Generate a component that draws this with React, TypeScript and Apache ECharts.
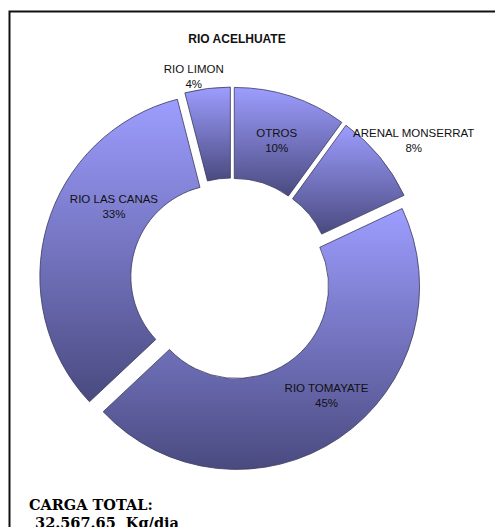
import React, { useEffect, useRef } from "react";
import * as echarts from "echarts";

const TITLE = "RIO ACELHUATE";
const CATEGORIES = ["OTROS", "ARENAL MONSERRAT", "RIO TOMAYATE", "RIO LAS CANAS", "RIO LIMON"];
const VALUES = [10, 8, 45, 33, 4];
const TOTAL_LINES = ["CARGA TOTAL:", " 32.567.65  Kg/dia"];

// label nudges (styling), same order as CATEGORIES
const LABEL_OFFSETS: [number, number][] = [
  [-1, 3.5],
  [67, -43.5],
  [11, -7],
  [26, -31],
  [-19, -54],
];

export default function App() {
  const ref = useRef<HTMLDivElement>(null);
  useEffect(() => {
    if (!ref.current) return;
    const chart = echarts.init(ref.current, undefined, { renderer: "svg" });
    const grad = () =>
      new echarts.graphic.LinearGradient(0, 0, 0, 1, [
        { offset: 0, color: "#9d9dff" },
        { offset: 1, color: "#4a4a80" },
      ]);
    const itemStyle = { color: grad(), borderColor: "#3a3a5e", borderWidth: 0.8 };
    const labelStyle = {
      fontFamily: "Liberation Sans, Arial, sans-serif",
      fontSize: 11.5,
      lineHeight: 15,
      color: "#111",
    };
    chart.setOption({
      animation: false,
      backgroundColor: "#ffffff",
      title: {
        text: TITLE,
        left: 232,
        top: 28,
        textAlign: "center",
        textStyle: {
          fontFamily: "Liberation Sans, Arial, sans-serif",
          fontSize: 12,
          fontWeight: "bold",
          color: "#111",
        },
      },
      graphic: [
        {
          type: "rect",
          shape: { x: 9.5, y: 11.5, width: 700, height: 700 },
          style: { fill: "none", stroke: "#111", lineWidth: 2 },
          silent: true,
        },
        {
          type: "text",
          x: 29,
          y: 504.5,
          style: {
            text: TOTAL_LINES[0],
            fontFamily: "DejaVu Serif, serif",
            fontWeight: "bold",
            fontSize: 14.5,
            fill: "#000",
            verticalAlign: "middle",
          },
        },
        {
          type: "text",
          x: 30,
          y: 522.5,
          style: {
            text: TOTAL_LINES[1],
            fontFamily: "DejaVu Serif, serif",
            fontWeight: "bold",
            fontSize: 14.5,
            fill: "#000",
            verticalAlign: "middle",
          },
        },
      ],
      series: [
        {
          type: "pie",
          center: [231.5, 279],
          radius: [92, 183],
          startAngle: 90,
          clockwise: true,
          avoidLabelOverlap: false,
          selectedMode: "multiple",
          selectedOffset: 9,
          emphasis: { disabled: true },
          select: { itemStyle: itemStyle, label: labelStyle },
          itemStyle,
          label: {
            show: true,
            position: "inside",
            ...labelStyle,
            formatter: (p: any) => `${p.name}\n${Math.round(p.percent)}%`,
          },
          labelLine: { show: false },
          labelLayout: (p: any) => ({
            dx: LABEL_OFFSETS[p.dataIndex][0],
            dy: LABEL_OFFSETS[p.dataIndex][1],
          }),
          data: CATEGORIES.map((name, i) => ({
            name,
            value: VALUES[i],
            selected: true,
          })),
        },
      ],
    });
    return () => chart.dispose();
  }, []);
  return (
    <div
      ref={ref}
      style={{ position: "fixed", left: 0, top: 0, width: 495, height: 527 }}
    />
  );
}
